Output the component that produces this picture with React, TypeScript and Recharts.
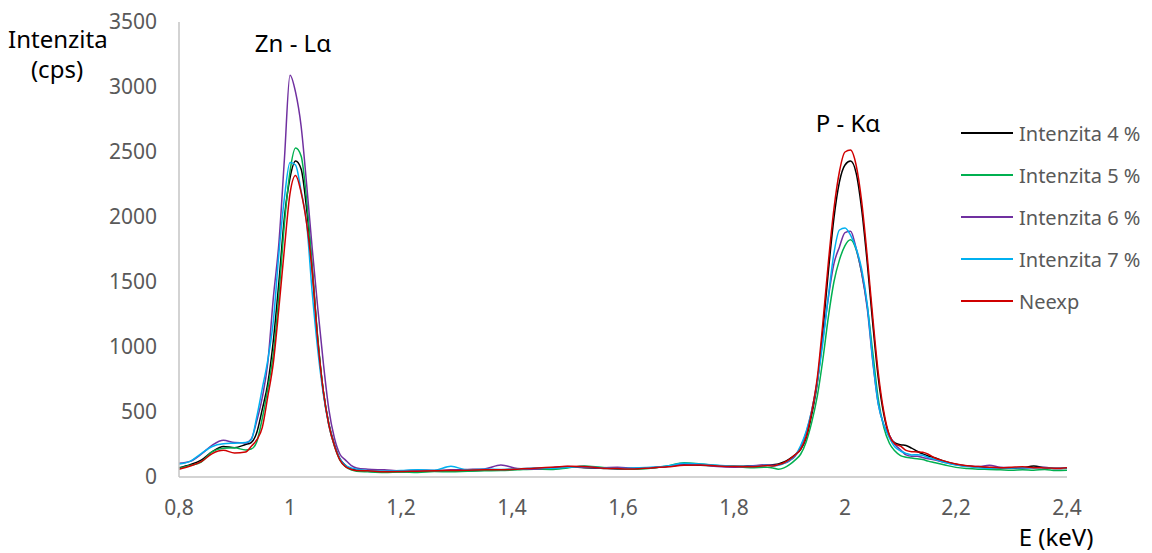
import { LineChart, Line, XAxis, YAxis, Legend } from "recharts";

const FONT = "'Noto Sans', sans-serif";

// energy (keV)
const energies = [
  0.8, 0.82, 0.84, 0.86, 0.88, 0.9, 0.92,
  0.93, 0.94, 0.95, 0.96, 0.97, 0.98, 0.99, 1.0, 1.01, 1.02, 1.03, 1.04, 1.05, 1.06, 1.07, 1.08, 1.09, 1.1, 1.11, 1.12,
  1.14, 1.17, 1.2, 1.23, 1.26, 1.29, 1.32, 1.35, 1.38, 1.41, 1.44, 1.47, 1.5, 1.53, 1.56, 1.59, 1.62, 1.65, 1.68, 1.71, 1.74, 1.77, 1.8, 1.83, 1.86,
  1.87, 1.88, 1.89, 1.9, 1.91, 1.92, 1.93, 1.94, 1.95, 1.96, 1.97, 1.98, 1.99, 2.0, 2.01, 2.02, 2.03, 2.04, 2.05, 2.06, 2.07, 2.08, 2.09, 2.1, 2.11, 2.12, 2.13, 2.14, 2.15,
  2.16, 2.18, 2.2, 2.22, 2.24, 2.26, 2.28, 2.3, 2.32, 2.34, 2.36, 2.38, 2.4,
];

const int4 = [
  72, 95, 130, 195, 235, 225, 250,
  265, 340, 520, 720, 1050, 1500, 2000, 2300, 2430, 2370, 2060, 1600, 1060, 660, 410, 250, 140, 90, 60, 55,
  45, 42, 40, 48, 45, 50, 48, 52, 55, 60, 65, 70, 78, 72, 68, 62, 66, 70, 80, 95, 90, 85, 82, 85, 90,
  95, 100, 115, 140, 170, 210, 300, 480, 720, 1120, 1580, 1990, 2270, 2400, 2430, 2340, 2060, 1650, 1180, 760, 480, 320, 262, 248, 242, 222, 198, 178, 162,
  150, 120, 98, 84, 76, 72, 70, 68, 72, 84, 72, 66, 68,
];

const int5 = [
  65, 88, 115, 195, 222, 225, 208,
  215, 270, 450, 680, 950, 1400, 1950, 2350, 2530, 2470, 2130, 1620, 1070, 660, 400, 240, 130, 80, 55, 45,
  40, 35, 38, 35, 42, 40, 45, 48, 50, 55, 60, 58, 70, 85, 75, 65, 60, 68, 85, 110, 100, 88, 80, 72, 75,
  70, 60, 70, 95, 130, 175, 270, 420, 620, 900, 1230, 1500, 1670, 1780, 1825, 1750, 1570, 1320, 960, 600, 380, 260, 200, 165, 152, 146, 140, 134, 122,
  112, 92, 74, 65, 60, 58, 55, 52, 55, 52, 58, 50, 52,
];

const int6 = [
  105, 120, 175, 245, 282, 265, 262,
  290, 430, 610, 880, 1380, 1800, 2450, 3090, 2960, 2700, 2250, 1760, 1300, 880, 520, 300, 175, 130, 90, 70,
  60, 55, 48, 52, 50, 55, 58, 62, 92, 65, 60, 72, 80, 75, 70, 75, 68, 72, 80, 100, 95, 80, 75, 85, 95,
  90, 95, 105, 125, 160, 230, 340, 510, 740, 1060, 1380, 1640, 1770, 1880, 1890, 1760, 1570, 1300, 890, 560, 400, 320, 250, 210, 170, 160, 160, 150, 140,
  132, 112, 95, 85, 80, 90, 75, 72, 70, 72, 75, 65, 70,
];

const int7 = [
  100, 120, 180, 235, 255, 260, 265,
  285, 460, 680, 900, 1200, 1720, 2150, 2420, 2400, 2200, 1950, 1420, 980, 640, 400, 240, 140, 90, 70, 60,
  50, 45, 50, 55, 52, 82, 55, 60, 58, 62, 70, 68, 75, 80, 72, 65, 70, 75, 85, 105, 100, 90, 82, 80, 90,
  85, 90, 105, 130, 165, 240, 350, 510, 730, 1030, 1390, 1720, 1900, 1915, 1860, 1760, 1600, 1330, 900, 560, 400, 300, 230, 200, 182, 170, 172, 168, 150,
  138, 112, 92, 80, 72, 68, 70, 70, 72, 72, 70, 68, 70,
];

const neexp = [
  60, 85, 118, 180, 205, 185, 192,
  235, 285, 380, 620, 880, 1300, 1760, 2180, 2320, 2190, 1950, 1580, 1050, 660, 400, 240, 130, 80, 60, 50,
  48, 40, 42, 45, 48, 50, 52, 55, 55, 60, 68, 75, 82, 80, 70, 65, 62, 70, 78, 90, 92, 85, 80, 78, 88,
  85, 95, 110, 135, 170, 215, 310, 500, 760, 1180, 1650, 2060, 2350, 2500, 2515, 2400, 2120, 1700, 1230, 800, 500, 320, 255, 238, 205, 195, 193, 190, 175,
  150, 122, 100, 86, 80, 75, 72, 75, 78, 72, 70, 68, 72,
];

const xTicks = [0.8, 1, 1.2, 1.4, 1.6, 1.8, 2, 2.2, 2.4];
const yTicks = [0, 500, 1000, 1500, 2000, 2500, 3000, 3500];

const series = [
  { key: "i4", name: "Intenzita 4 %", color: "#000000", values: int4 },
  { key: "i5", name: "Intenzita 5 %", color: "#00b050", values: int5 },
  { key: "i6", name: "Intenzita 6 %", color: "#7030a0", values: int6 },
  { key: "i7", name: "Intenzita 7 %", color: "#00b0f0", values: int7 },
  { key: "ne", name: "Neexp", color: "#d00000", values: neexp },
];

const data = energies.map((e, i) => {
  const row: Record<string, number> = { e };
  series.forEach((s) => (row[s.key] = s.values[i]));
  return row;
});

function LegendBox() {
  return (
    <div style={{ fontFamily: FONT }}>
      {series.map((s) => (
        <div key={s.key} style={{ display: "flex", alignItems: "center", height: 42 }}>
          <svg width={52} height={4} style={{ marginRight: 6 }}>
            <line x1={0} y1={2} x2={52} y2={2} stroke={s.color} strokeWidth={2} />
          </svg>
          <span style={{ fontSize: 20, color: "#595959", whiteSpace: "nowrap" }}>{s.name}</span>
        </div>
      ))}
    </div>
  );
}

const label = (style: React.CSSProperties): React.CSSProperties => ({
  position: "absolute",
  fontFamily: FONT,
  fontSize: 24,
  lineHeight: "24px",
  color: "#000",
  whiteSpace: "nowrap",
  ...style,
});

export default function App() {
  return (
    <div style={{ position: "relative", width: 1136, height: 545 }}>
      <LineChart width={1136} height={545} data={data} margin={{ top: 14, right: 77, bottom: 46, left: 0 }}>
        <XAxis
          dataKey="e"
          type="number"
          domain={[0.8, 2.4]}
          ticks={xTicks}
          tickFormatter={(v) => String(v).replace(".", ",")}
          axisLine={{ stroke: "#c4c4c4", strokeWidth: 1.5 }}
          tickLine={false}
          tickSize={0}
          tickMargin={23}
          height={30}
          tick={{ fill: "#595959", fontSize: 21, fontFamily: FONT }}
        />
        <YAxis
          domain={[0, 3500]}
          ticks={yTicks}
          width={171}
          axisLine={{ stroke: "#c4c4c4", strokeWidth: 1.5 }}
          tickLine={false}
          tickSize={0}
          tickMargin={22}
          tick={{ fill: "#595959", fontSize: 21, fontFamily: FONT }}
        />
        <Legend
          layout="vertical"
          align="center"
          verticalAlign="middle"
          content={() => <LegendBox />}
          wrapperStyle={{ left: 953, top: 104, width: 190 }}
        />
        {series.map((s) => (
          <Line
            key={s.key}
            dataKey={s.key}
            name={s.name}
            type="monotone"
            stroke={s.color}
            strokeWidth={1.5}
            dot={false}
            isAnimationActive={false}
          />
        ))}
      </LineChart>
      <div style={label({ left: 0, top: 19 })}>Intenzita</div>
      <div style={label({ left: -1, top: 49, width: 100, textAlign: "center" })}>(cps)</div>
      <div style={label({ left: 235, top: 23, width: 100, textAlign: "center" })}>Zn - Lα</div>
      <div style={label({ left: 790, top: 103, width: 100, textAlign: "center" })}>P - Kα</div>
      <div style={label({ left: 998, top: 517, width: 100, textAlign: "center" })}>E (keV)</div>
    </div>
  );
}
